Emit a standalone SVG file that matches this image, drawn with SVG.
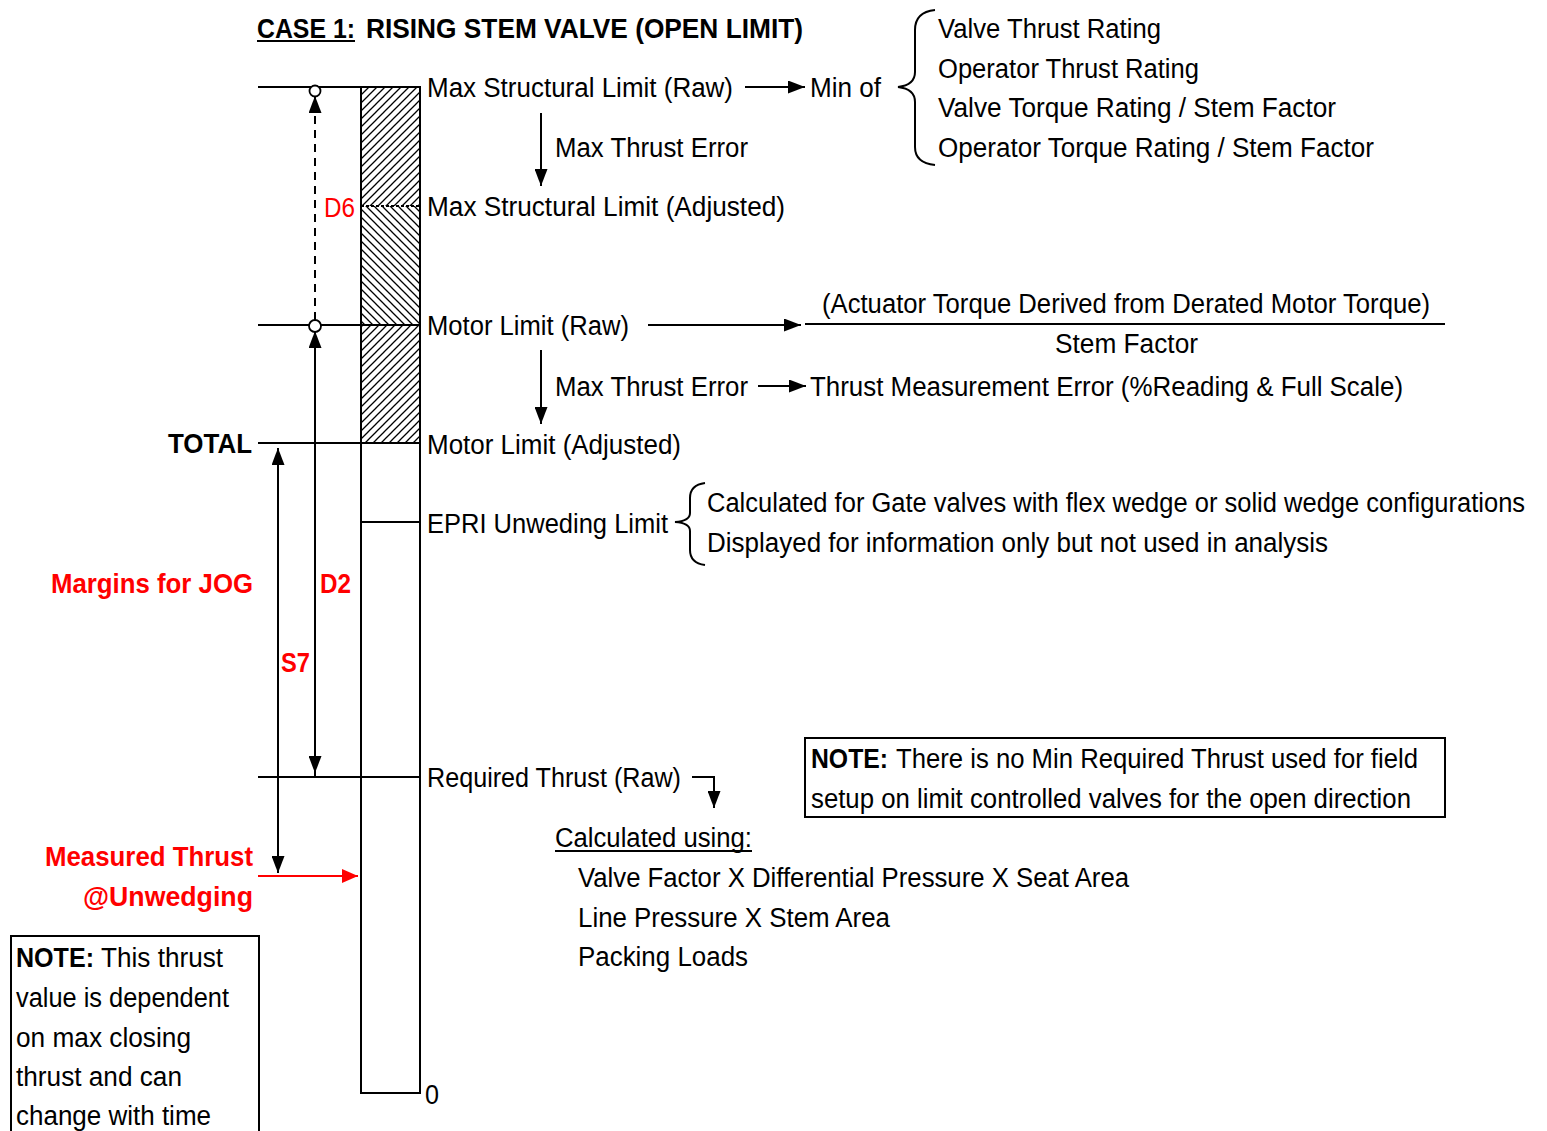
<svg xmlns="http://www.w3.org/2000/svg" width="1547" height="1131" viewBox="0 0 1547 1131">
<style>
text{font-family:"Liberation Sans Narrow","Liberation Sans",Arial,sans-serif;font-size:27px;fill:#000}
.b{font-weight:bold}
.r{fill:#ff0000}
.ln{stroke:#000;stroke-width:2;fill:none}
.red{stroke:#ff0000;stroke-width:2;fill:none}
</style>
<defs>
<pattern id="hf" patternUnits="userSpaceOnUse" width="8" height="8">
<path d="M-2 10 L10 -2 M-2 2 L2 -2 M6 10 L10 6" stroke="#000" stroke-width="1.3"/>
</pattern>
<pattern id="hb" patternUnits="userSpaceOnUse" width="8" height="8">
<path d="M-2 -2 L10 10 M-2 6 L2 10 M6 -2 L10 2" stroke="#000" stroke-width="1.3"/>
</pattern>
<marker id="ah" viewBox="0 0 17 13" refX="17" refY="6.5" markerWidth="17" markerHeight="13" markerUnits="userSpaceOnUse" orient="auto">
<path d="M0 0 L17 6.5 L0 13 Z" fill="#000"/>
</marker>
<marker id="ahr" viewBox="0 0 16 14" refX="16" refY="7" markerWidth="16" markerHeight="14" markerUnits="userSpaceOnUse" orient="auto">
<path d="M0 0 L16 7 L0 14 Z" fill="#ff0000"/>
</marker>
</defs>

<g id="title">
<text class="b" x="257" y="38" textLength="98" lengthAdjust="spacingAndGlyphs">CASE 1:</text>
<line class="ln" x1="257" y1="41" x2="355" y2="41"/>
<text class="b" x="366" y="38" textLength="437" lengthAdjust="spacingAndGlyphs">RISING STEM VALVE (OPEN LIMIT)</text>
</g>

<g id="bar">
<rect x="361" y="87" width="59" height="119" fill="url(#hf)"/>
<rect x="361" y="206" width="59" height="119" fill="url(#hb)"/>
<rect x="361" y="325" width="59" height="118" fill="url(#hf)"/>
<rect class="ln" x="361" y="87" width="59" height="1006"/>
<line x1="361" y1="206" x2="420" y2="206" stroke="#000" stroke-width="2" stroke-dasharray="3 2"/>
<line class="ln" x1="258" y1="87" x2="420" y2="87"/>
<line class="ln" x1="258" y1="325" x2="420" y2="325"/>
<line class="ln" x1="258" y1="443" x2="420" y2="443"/>
<line class="ln" x1="361" y1="522" x2="420" y2="522"/>
<line class="ln" x1="258" y1="777" x2="420" y2="777"/>
<text x="425" y="1104" textLength="14" lengthAdjust="spacingAndGlyphs">0</text>
</g>

<g id="connectors">
<line x1="315" y1="320" x2="315" y2="96" stroke="#000" stroke-width="2" stroke-dasharray="8 6" marker-end="url(#ah)"/>
<line class="ln" x1="315" y1="96" x2="315" y2="112" />
<line class="ln" x1="315" y1="777" x2="315" y2="331" marker-end="url(#ah)"/>
<line class="ln" x1="315" y1="340" x2="315" y2="773" marker-end="url(#ah)"/>
<line class="ln" x1="278" y1="873" x2="278" y2="448" marker-end="url(#ah)"/>
<line class="ln" x1="278" y1="460" x2="278" y2="873" marker-end="url(#ah)"/>
<line class="red" x1="258" y1="876" x2="358" y2="876" marker-end="url(#ahr)"/>
<circle cx="315" cy="91" r="5.5" fill="#fff" stroke="#000" stroke-width="1.8"/>
<circle cx="315" cy="326" r="6" fill="#fff" stroke="#000" stroke-width="1.8"/>
<line class="ln" x1="745" y1="87" x2="805" y2="87" marker-end="url(#ah)"/>
<line class="ln" x1="541" y1="113" x2="541" y2="186" marker-end="url(#ah)"/>
<line class="ln" x1="648" y1="325" x2="801" y2="325" marker-end="url(#ah)"/>
<line class="ln" x1="541" y1="350" x2="541" y2="424" marker-end="url(#ah)"/>
<line class="ln" x1="758" y1="386" x2="806" y2="386" marker-end="url(#ah)"/>
<path class="ln" d="M692 777 L714 777 L714 808" marker-end="url(#ah)"/>
<line class="ln" x1="805" y1="324" x2="1445" y2="324"/>
<path class="ln" d="M935 10 Q915 12 915 30 L915 72 Q915 85 898 87 Q915 89 915 102 L915 147 Q915 163 935 165"/>
<path class="ln" d="M705 483 Q690 485 690 498 L690 513 Q690 521 675 522 Q690 523 690 531 L690 550 Q690 563 705 565"/>
</g>

<g id="left-labels">
<text class="r" x="324" y="217" textLength="31" lengthAdjust="spacingAndGlyphs">D6</text>
<text class="b" x="168" y="453" textLength="84" lengthAdjust="spacingAndGlyphs">TOTAL</text>
<text class="b r" x="51" y="593" textLength="202" lengthAdjust="spacingAndGlyphs">Margins for JOG</text>
<text class="b r" x="320" y="593" textLength="31" lengthAdjust="spacingAndGlyphs">D2</text>
<text class="b r" x="281" y="672" textLength="29" lengthAdjust="spacingAndGlyphs">S7</text>
<text class="b r" x="45" y="866" textLength="208" lengthAdjust="spacingAndGlyphs">Measured Thrust</text>
<text class="b r" x="83" y="906" textLength="170" lengthAdjust="spacingAndGlyphs">@Unwedging</text>
</g>

<g id="note-left">
<rect class="ln" x="11" y="936" width="248" height="210"/>
<text class="b" x="16" y="967" textLength="78" lengthAdjust="spacingAndGlyphs">NOTE:</text>
<text x="101" y="967" textLength="122" lengthAdjust="spacingAndGlyphs">This thrust</text>
<text x="16" y="1007" textLength="213" lengthAdjust="spacingAndGlyphs">value is dependent</text>
<text x="16" y="1047" textLength="175" lengthAdjust="spacingAndGlyphs">on max closing</text>
<text x="16" y="1086" textLength="166" lengthAdjust="spacingAndGlyphs">thrust and can</text>
<text x="16" y="1125" textLength="195" lengthAdjust="spacingAndGlyphs">change with time</text>
</g>

<g id="structural">
<text x="427" y="97" textLength="306" lengthAdjust="spacingAndGlyphs">Max Structural Limit (Raw)</text>
<text x="810" y="97" textLength="71" lengthAdjust="spacingAndGlyphs">Min of</text>
<text x="938" y="38" textLength="223" lengthAdjust="spacingAndGlyphs">Valve Thrust Rating</text>
<text x="938" y="78" textLength="261" lengthAdjust="spacingAndGlyphs">Operator Thrust Rating</text>
<text x="938" y="117" textLength="398" lengthAdjust="spacingAndGlyphs">Valve Torque Rating / Stem Factor</text>
<text x="938" y="157" textLength="436" lengthAdjust="spacingAndGlyphs">Operator Torque Rating / Stem Factor</text>
<text x="555" y="157" textLength="193" lengthAdjust="spacingAndGlyphs">Max Thrust Error</text>
<text x="427" y="216" textLength="358" lengthAdjust="spacingAndGlyphs">Max Structural Limit (Adjusted)</text>
</g>

<g id="motor">
<text x="427" y="335" textLength="202" lengthAdjust="spacingAndGlyphs">Motor Limit (Raw)</text>
<text x="822" y="313" textLength="608" lengthAdjust="spacingAndGlyphs">(Actuator Torque Derived from Derated Motor Torque)</text>
<text x="1055" y="353" textLength="143" lengthAdjust="spacingAndGlyphs">Stem Factor</text>
<text x="555" y="396" textLength="193" lengthAdjust="spacingAndGlyphs">Max Thrust Error</text>
<text x="810" y="396" textLength="593" lengthAdjust="spacingAndGlyphs">Thrust Measurement Error (%Reading &amp; Full Scale)</text>
<text x="427" y="454" textLength="254" lengthAdjust="spacingAndGlyphs">Motor Limit (Adjusted)</text>
</g>

<g id="epri">
<text x="427" y="533" textLength="241" lengthAdjust="spacingAndGlyphs">EPRI Unweding Limit</text>
<text transform="translate(707,512) scale(0.9,1)" x="0" y="0" textLength="909" lengthAdjust="spacingAndGlyphs">Calculated for Gate valves with flex wedge or solid wedge configurations</text>
<text x="707" y="552" textLength="621" lengthAdjust="spacingAndGlyphs">Displayed for information only but not used in analysis</text>
</g>

<g id="required">
<text x="427" y="787" textLength="254" lengthAdjust="spacingAndGlyphs">Required Thrust (Raw)</text>
<text x="555" y="847" textLength="197" lengthAdjust="spacingAndGlyphs">Calculated using:</text>
<line class="ln" x1="555" y1="851" x2="752" y2="851" stroke-width="1.6"/>
<text x="578" y="887" textLength="551" lengthAdjust="spacingAndGlyphs">Valve Factor X Differential Pressure X Seat Area</text>
<text x="578" y="927" textLength="312" lengthAdjust="spacingAndGlyphs">Line Pressure X Stem Area</text>
<text x="578" y="966" textLength="170" lengthAdjust="spacingAndGlyphs">Packing Loads</text>
</g>

<g id="note-right">
<rect class="ln" x="805" y="738" width="640" height="79"/>
<text class="b" x="811" y="768" textLength="77" lengthAdjust="spacingAndGlyphs">NOTE:</text>
<text x="896" y="768" textLength="522" lengthAdjust="spacingAndGlyphs">There is no Min Required Thrust used for field</text>
<text x="811" y="808" textLength="600" lengthAdjust="spacingAndGlyphs">setup on limit controlled valves for the open direction</text>
</g>
</svg>
